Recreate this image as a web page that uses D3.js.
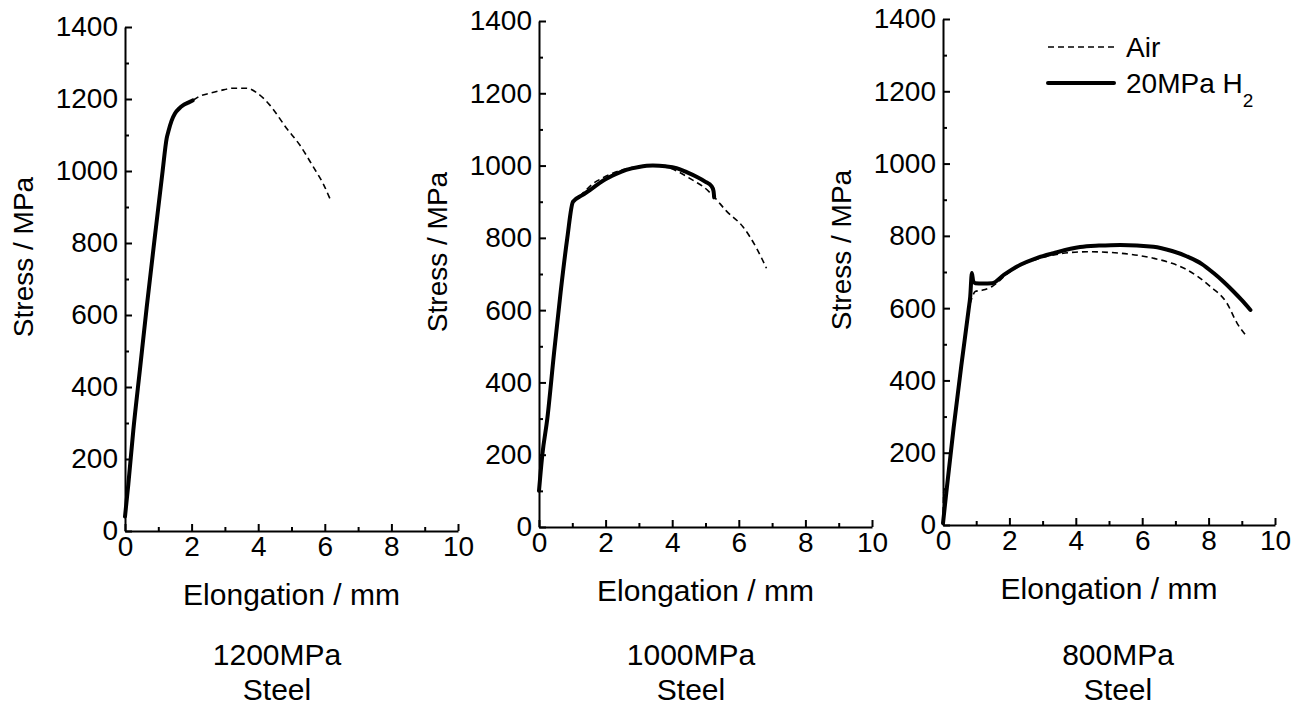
<!DOCTYPE html>
<html>
<head>
<meta charset="utf-8">
<script src="https://cdnjs.cloudflare.com/ajax/libs/d3/7.8.5/d3.min.js"></script>
<style>
  body { margin: 0; background: #fff; }
  svg text { font-family: "Liberation Sans", Arial, sans-serif; fill: #000; }
</style>
</head>
<body>
<div id="chart"></div>
<script>
// tick values shared by the three panels
var xTicks = [0, 2, 4, 6, 8, 10];
var xMinor = [1, 3, 5, 7, 9];
var yTicks = [0, 200, 400, 600, 800, 1000, 1200, 1400];
var yMinor = [100, 300, 500, 700, 900, 1100, 1300];

var steelNames = ["1200MPa", "1000MPa", "800MPa"];
var seriesNames = ["Air", "20MPa H"];

// [elongation mm, stress MPa]
var air1200 = [[0,40],[0.1,130],[0.25,280],[0.45,450],[0.65,620],[0.9,820],[1.13,1000],[1.3,1109],[1.5,1160],[1.75,1183],[2.03,1196],[2.25,1208],[2.55,1216],[2.85,1223],[3.25,1230],[3.65,1230],[3.95,1218],[4.35,1183],[4.85,1119],[5.25,1072],[5.65,1012],[5.95,965],[6.15,924]];
var h2_1200 = [[0,40],[0.1,130],[0.25,280],[0.45,450],[0.65,620],[0.9,820],[1.13,1000],[1.25,1090],[1.3,1109],[1.4,1140],[1.5,1160],[1.62,1173],[1.75,1183],[1.9,1190],[2.03,1196]];

var air1000 = [[0,100],[0.1,200],[0.25,300],[0.45,480],[0.65,650],[0.85,800],[1.02,900],[1.3,922],[1.62,950],[1.92,966],[2.3,982],[2.7,993],[3.1,998],[3.5,1000],[3.9,994],[4.2,982],[4.43,970],[4.7,955],[4.93,942],[5.23,916],[5.63,874],[6.13,830],[6.53,772],[6.83,716]];
var h2_1000 = [[0,100],[0.1,200],[0.25,300],[0.45,480],[0.65,650],[0.85,800],[1.02,900],[1.3,918],[1.6,937],[1.92,958],[2.3,976],[2.62,988],[3.0,996],[3.42,1000],[3.8,998],[4.13,993],[4.45,981],[4.73,969],[5.0,955],[5.18,943],[5.24,930],[5.26,912]];

var air800 = [[0,5],[0.03,100],[0.06,60],[0.15,140],[0.32,269],[0.55,440],[0.77,595],[0.88,630],[0.97,646],[1.2,650],[1.48,660],[2.0,700],[2.5,725],[3.0,740],[3.5,750],[4.34,756],[5.34,752],[6.34,738],[6.9,724],[7.35,706],[8.05,660],[8.55,614],[8.86,558],[9.11,526]];
var h2_800 = [[0,5],[0.1,90],[0.32,269],[0.55,440],[0.77,595],[0.82,632],[0.87,697],[0.91,675],[0.97,669],[1.2,668],[1.48,669],[1.83,692],[2.33,720],[2.8,738],[3.33,752],[4.13,769],[4.7,773],[5.34,775],[6.34,770],[6.9,758],[7.35,743],[7.8,722],[8.15,697],[8.45,673],[8.75,646],[9.0,622],[9.26,595]];

var airData = [air1200, air1000, air800];
var h2Data = [h2_1200, h2_1000, h2_800];

// pixel frame of each panel (left, right, bottom, top) and caption centre
var frames = [
    {left: 125, right: 458, bottom: 531, top: 27, cap: 277},
    {left: 539, right: 872, bottom: 527, top: 21, cap: 691},
    {left: 943, right: 1275, bottom: 525, top: 19, cap: 1118}
];

var svg = d3.select("#chart").append("svg")
    .attr("width", 1309)
    .attr("height", 708);

svg.append("rect").attr("width", 1309).attr("height", 708).attr("fill", "#fff");

frames.forEach(function(f, i){
    var x = d3.scaleLinear().domain([0, 10]).range([f.left, f.right]);
    var y = d3.scaleLinear().domain([0, 1400]).range([f.bottom, f.top]);

    var g = svg.append("g");

    // minor ticks first, no labels
    g.append("g").attr("transform", "translate(0," + f.bottom + ")")
        .call(d3.axisBottom(x).tickValues(xMinor).tickSizeInner(-4).tickSizeOuter(0).tickFormat(""))
        .call(function(a){ a.select(".domain").remove(); });
    g.append("g").attr("transform", "translate(" + f.left + ",0)")
        .call(d3.axisLeft(y).tickValues(yMinor).tickSizeInner(-4).tickSizeOuter(0).tickFormat(""))
        .call(function(a){ a.select(".domain").remove(); });

    g.append("g").attr("transform", "translate(0," + f.bottom + ")")
        .call(d3.axisBottom(x).tickValues(xTicks).tickSizeInner(-7).tickSizeOuter(0).tickPadding(5).tickFormat(d3.format("d")));
    g.append("g").attr("transform", "translate(" + f.left + ",0)")
        .call(d3.axisLeft(y).tickValues(yTicks).tickSizeInner(-7).tickSizeOuter(0).tickPadding(7).tickFormat(d3.format("d")));

    g.selectAll(".domain").attr("stroke", "#000").attr("stroke-width", 2);
    g.selectAll(".tick line").attr("stroke", "#000").attr("stroke-width", 2);
    g.selectAll(".tick text").style("font-size", "28px").attr("fill", "#000");

    // axis titles
    g.append("text")
        .attr("x", (f.left + f.right) / 2)
        .attr("y", f.bottom + 74)
        .attr("text-anchor", "middle")
        .style("font-size", "30px")
        .text("Elongation / mm");
    g.append("text")
        .attr("transform", "translate(" + (f.left - 92) + "," + ((f.top + f.bottom) / 2 - 22) + ") rotate(-90)")
        .attr("text-anchor", "middle")
        .style("font-size", "28px")
        .text("Stress / MPa");

    // caption below each panel
    g.append("text").attr("x", f.cap).attr("y", 665).attr("text-anchor", "middle")
        .style("font-size", "30px").text(steelNames[i]);
    g.append("text").attr("x", f.cap).attr("y", 700).attr("text-anchor", "middle")
        .style("font-size", "30px").text("Steel");

    var line = d3.line()
        .x(function(d){ return x(d[0]); })
        .y(function(d){ return y(d[1]); })
        .curve(d3.curveMonotoneX);

    g.append("path").datum(airData[i])
        .attr("d", line)
        .attr("fill", "none")
        .attr("stroke", "#000")
        .attr("stroke-width", 1.6)
        .attr("stroke-dasharray", "6,4");

    g.append("path").datum(h2Data[i])
        .attr("d", line)
        .attr("fill", "none")
        .attr("stroke", "#000")
        .attr("stroke-width", 4)
        .attr("stroke-linecap", "round")
        .attr("stroke-linejoin", "round");
});

// legend sits in the right panel
var leg = svg.append("g");
leg.append("line").attr("x1", 1048).attr("x2", 1115).attr("y1", 47).attr("y2", 47)
    .attr("stroke", "#000").attr("stroke-width", 1.6).attr("stroke-dasharray", "6,4");
leg.append("text").attr("x", 1126).attr("y", 57).style("font-size", "28px").text(seriesNames[0]);
leg.append("line").attr("x1", 1048).attr("x2", 1114).attr("y1", 83).attr("y2", 83)
    .attr("stroke", "#000").attr("stroke-width", 4).attr("stroke-linecap", "round");
var t = leg.append("text").attr("x", 1126).attr("y", 93).style("font-size", "28px");
t.append("tspan").text(seriesNames[1]);
t.append("tspan").attr("dy", 14).style("font-size", "19px").text("2");
</script>
</body>
</html>
